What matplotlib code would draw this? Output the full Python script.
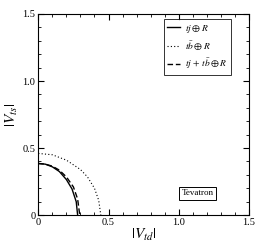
import matplotlib.pyplot as plt
from matplotlib.ticker import MultipleLocator

plt.rcParams['font.family'] = 'Liberation Serif'
plt.rcParams['mathtext.fontset'] = 'stix'

# curve points: (|V_td|, |V_ts|)
tj_x = [0, 0.05, 0.10, 0.15, 0.20, 0.24, 0.27, 0.28]
tj_y = [0.385, 0.38, 0.36, 0.325, 0.265, 0.195, 0.10, 0]
tb_x = [0, 0.1, 0.2, 0.3, 0.35, 0.4, 0.43, 0.445]
tb_y = [0.46, 0.45, 0.41, 0.34, 0.285, 0.20, 0.11, 0]
comb_x = [0, 0.05, 0.10, 0.15, 0.20, 0.25, 0.28, 0.295]
comb_y = [0.385, 0.38, 0.365, 0.335, 0.285, 0.21, 0.12, 0]

fig = plt.figure(figsize=(2.57, 2.45), dpi=100)
ax = fig.add_axes([0.149, 0.122, 0.82, 0.821])

ax.plot(tj_x, tj_y, color='black', lw=1.0, ls='-', label=r'$tj \oplus R$')
ax.plot(tb_x, tb_y, color='black', lw=0.8, ls=(0, (1, 2)), label=r'$t\bar{b} \oplus R$')
ax.plot(comb_x, comb_y, color='black', lw=1.0, ls=(0, (4, 2)), label=r'$tj\,+\,t\bar{b} \oplus R$')

ax.set_xlim(0, 1.5)
ax.set_ylim(0, 1.5)
ax.set_xticks([0, 0.5, 1.0, 1.5])
ax.set_xticklabels(['0', '0.5', '1.0', '1.5'])
ax.set_yticks([0, 0.5, 1.0, 1.5])
ax.set_yticklabels(['0', '0.5', '1.0', '1.5'])
ax.xaxis.set_minor_locator(MultipleLocator(0.1))
ax.yaxis.set_minor_locator(MultipleLocator(0.1))
ax.tick_params(which='both', direction='in', top=True, right=True, labelsize=7.5, pad=2)
ax.tick_params(which='major', length=4, width=0.8)
ax.tick_params(which='minor', length=2, width=0.6)
for s in ax.spines.values():
    s.set_linewidth(0.8)

ax.set_xlabel(r'$|V_{td}|$', fontsize=11, labelpad=0)
ax.set_ylabel(r'$|V_{ts}|$', fontsize=11, labelpad=2)

leg = ax.legend(loc='upper right', bbox_to_anchor=(0.915, 0.974), fontsize=6.8, frameon=True,
                fancybox=False, edgecolor='black', handlelength=1.3, handletextpad=0.6,
                borderpad=0.35, labelspacing=0.5, borderaxespad=0)
leg.get_frame().set_linewidth(0.7)

ax.text(0.755, 0.108, 'Tevatron', transform=ax.transAxes, fontsize=6.5, ha='center', va='center',
        bbox=dict(boxstyle='square,pad=0.3', fc='white', ec='black', lw=0.7))

fig.savefig('out.png', dpi=100)
